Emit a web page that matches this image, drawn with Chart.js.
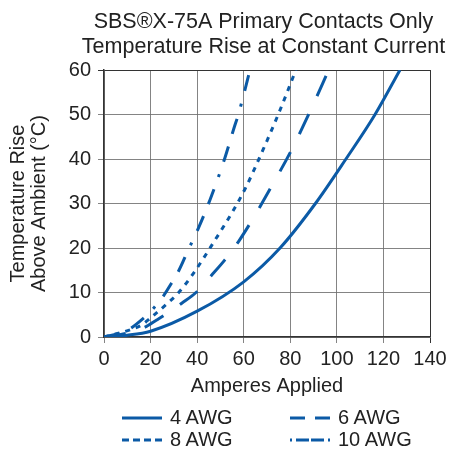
<!DOCTYPE html>
<html>
<head>
<meta charset="utf-8">
<script src="https://cdn.jsdelivr.net/npm/chart.js@4.4.0/dist/chart.umd.min.js"></script>
<style>
  html, body { margin: 0; padding: 0; background: #fff; }
  #wrap { position: relative; width: 453px; height: 452px; }
  #legend .item { position: absolute; height: 22px; display: flex; align-items: flex-start; }
  #legend span { font-family: 'Liberation Sans', Arial, sans-serif; font-size: 20px; line-height: 22px; color: #222; margin-left: 8px; white-space: nowrap; }
</style>
</head>
<body>
<div id="wrap">
  <canvas id="temp_chart" width="453" height="452"></canvas>
  <div id="legend"></div>
</div>
<script>
// values
const labels = ['4 AWG', '6 AWG', '8 AWG', '10 AWG'];
const title_lines = ['SBS\u00AEX-75A Primary Contacts Only', 'Temperature Rise at Constant Current'];

const amps_4awg = [0, 10, 20, 40, 60, 75.6, 90.8, 103.9, 116.4, 127.1];
const temp_4awg = [0, 0.4, 1.3, 5.8, 12.4, 20, 30, 40, 50, 60];

const amps_6awg = [0, 10, 17.6, 22.6, 26.2, 33.4, 39.5, 46.2, 52, 57.7, 62.7, 72, 80.6, 88.5, 96.5];
const temp_6awg = [0, 0.9, 2.2, 3.8, 5.0, 7.6, 10, 13.9, 17.4, 21.4, 25.5, 33.9, 42.1, 50.7, 60];

const amps_8awg = [0, 11.2, 16.2, 19.8, 26.9, 31.9, 38.4, 47.7, 54.8, 60.5, 68.4, 75.6, 82.4];
const temp_8awg = [0, 1.6, 2.7, 4.2, 7.4, 9.9, 14.3, 21.8, 27.8, 33.2, 42.2, 51, 60];

const amps_10awg = [0, 10, 16.9, 21.2, 25.5, 28.3, 32.3, 36.2, 40.5, 45.5, 51.7, 55.8, 57.8, 62.7];
const temp_10awg = [0, 1.5, 4.2, 6.4, 9.2, 11.5, 15.1, 19.6, 24.4, 30.8, 39.9, 46.9, 50.2, 60];

const x_ticks = [0, 20, 40, 60, 80, 100, 120, 140];
const y_ticks = [0, 10, 20, 30, 40, 50, 60];

const line_color = '#0b5aa6';
const font_family = "'Liberation Sans', Arial, sans-serif";

// dash patterns for plot lines and legend samples
const plot_dashes = [[], [22, 20], [5, 6], [16, 13, 16, 13, 3, 13]];
const legend_dashes = ['', '15 10 15', '7 4 7 4 7 4 7', '2 4 13 2 13 4 2'];

function toPoints(xs, ys) {
    return xs.map((x, i) => ({x: x, y: ys[i]}));
}

const series = [
    toPoints(amps_4awg, temp_4awg),
    toPoints(amps_6awg, temp_6awg),
    toPoints(amps_8awg, temp_8awg),
    toPoints(amps_10awg, temp_10awg)
];

const grid_color = 'rgba(110, 110, 110, 0.85)';
const edge_color = '#333';

// two line title centred over the plot area
const centerTitle = {
    id: 'centerTitle',
    afterDraw(chart) {
        const c = chart.ctx;
        const area = chart.chartArea;
        c.save();
        c.font = '21.5px ' + font_family;
        c.fillStyle = '#222';
        c.textAlign = 'center';
        c.textBaseline = 'alphabetic';
        const cx = (area.left + area.right) / 2 - 3.5;
        c.fillText(title_lines[0], cx, 28);
        c.fillText(title_lines[1], cx, 52.5);
        c.restore();
    }
};

let ctx = document.getElementById('temp_chart');

let temp_chart = new Chart(ctx, {
    type: 'scatter',
    data: {
        datasets: series.map((pts, i) => ({
            label: labels[i],
            data: pts,
            showLine: true,
            borderColor: line_color,
            backgroundColor: line_color,
            borderWidth: 3,
            borderDash: plot_dashes[i],
            pointRadius: 0,
            fill: false,
            cubicInterpolationMode: 'monotone'
        }))
    },
    options: {
        responsive: false,
        animation: false,
        layout: {
            padding: {left: 0, right: 23, top: 70, bottom: 50}
        },
        plugins: {
            legend: {display: false},
            tooltip: {enabled: false},
            title: {display: false}
        },
        scales: {
            x: {
                type: 'linear',
                min: 0,
                max: 140,
                afterBuildTicks: scale => { scale.ticks = x_ticks.map(v => ({value: v})); },
                afterFit: scale => { scale.height = 65; },
                ticks: {color: '#222', padding: 4, font: {family: font_family, size: 20}},
                grid: {
                    color: c => (c.tick && c.tick.value === 140) ? edge_color : grid_color,
                    lineWidth: 1,
                    tickLength: 6
                },
                border: {color: edge_color, width: 1.5},
                title: {
                    display: true,
                    text: 'Amperes Applied',
                    color: '#222',
                    font: {family: font_family, size: 20},
                    padding: {top: 0, bottom: 4}
                }
            },
            y: {
                min: 0,
                max: 60,
                afterBuildTicks: scale => { scale.ticks = y_ticks.map(v => ({value: v})); },
                afterFit: scale => { scale.width = 104; },
                ticks: {color: '#222', padding: 7, font: {family: font_family, size: 20}},
                grid: {
                    color: c => (c.tick && c.tick.value === 60) ? edge_color : grid_color,
                    lineWidth: 1,
                    tickLength: 6
                },
                border: {color: edge_color, width: 1.5},
                title: {
                    display: true,
                    text: ['Temperature Rise', 'Above Ambient (\u00B0C)'],
                    color: '#222',
                    font: {family: font_family, size: 20, lineHeight: 1.05},
                    padding: {top: 8, bottom: 0}
                }
            }
        }
    },
    plugins: [centerTitle]
});

// legend in two columns under the axis title
const legend_pos = [[122, 406], [290, 406], [122, 428], [290, 428]];
const legend_div = document.getElementById('legend');
temp_chart.data.datasets.forEach((ds, i) => {
    let item = document.createElement('div');
    item.className = 'item';
    item.style.left = legend_pos[i][0] + 'px';
    item.style.top = legend_pos[i][1] + 'px';
    item.innerHTML =
        '<svg width="40" height="22"><line x1="0" y1="12" x2="40" y2="12" stroke="' + ds.borderColor +
        '" stroke-width="3" stroke-dasharray="' + legend_dashes[i] + '"/></svg>' +
        '<span>' + ds.label + '</span>';
    legend_div.appendChild(item);
});
</script>
</body>
</html>
